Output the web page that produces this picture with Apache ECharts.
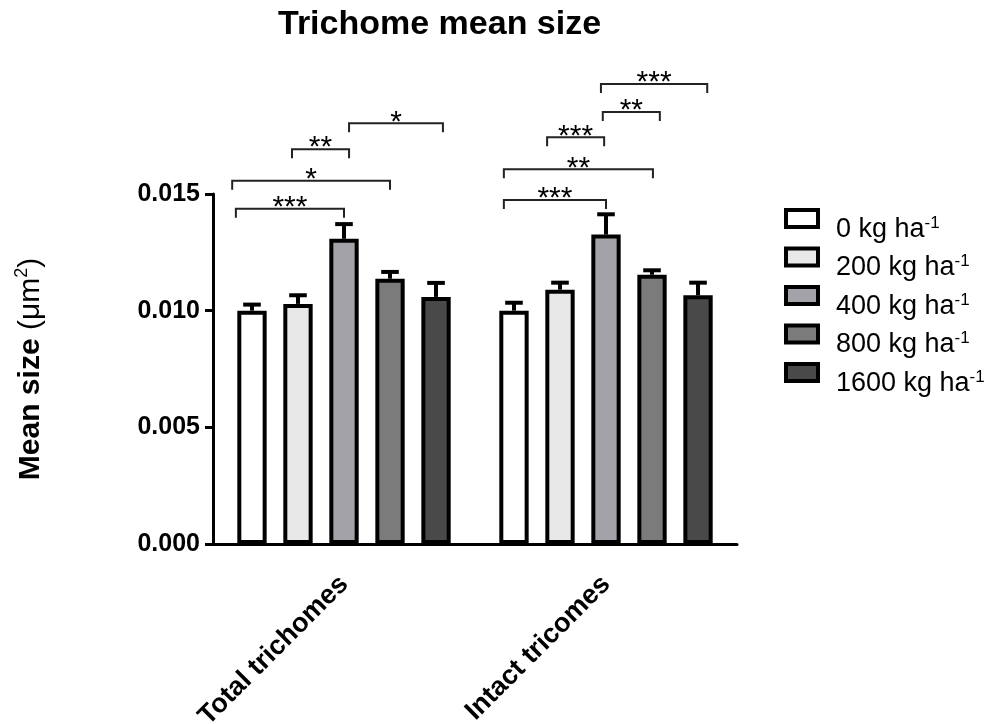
<!DOCTYPE html>
<html><head><meta charset="utf-8">
<script src="https://cdn.jsdelivr.net/npm/echarts@6/dist/echarts.min.js"></script>
<style>html,body{margin:0;padding:0;background:#fff}#c{width:990px;height:724px}</style>
</head><body><div id="c"></div>
<script>
// ---- data ----
const categories = ['Total trichomes', 'Intact tricomes'];
const seriesNames = ['0', '200', '400', '800', '1600'];
const seriesColors = ['#ffffff', '#e8e8e8', '#a2a2a8', '#7b7b7b', '#494949'];
const mean0 = [0.0100, 0.0100];
const mean200 = [0.01029, 0.01090];
const mean400 = [0.01308, 0.01326];
const mean800 = [0.01137, 0.01154];
const mean1600 = [0.01059, 0.01066];
const upper0 = [0.01026, 0.01034];
const upper200 = [0.01066, 0.01120];
const upper400 = [0.01371, 0.01413];
const upper800 = [0.01166, 0.01173];
const upper1600 = [0.01119, 0.01120];
const yMin = 0, yMax = 0.015, yStep = 0.005;
// significance brackets (category, from bar slot, to bar slot, height, label)
const bracketCat = [0, 0, 0, 0, 1, 1, 1, 1, 1];
const bracketFrom = [-0.35, -0.43, 0.87, 2.11, -0.22, -0.22, 0.72, 1.93, 1.89];
const bracketTo = [2.0, 3.0, 2.11, 4.15, 2.0, 3.02, 1.96, 3.17, 4.2];
const bracketY = [0.01437, 0.01557, 0.01692, 0.01803, 0.01474, 0.01606, 0.01743, 0.01851, 0.01971];
const bracketLabel = ['***', '*', '**', '*', '***', '**', '***', '**', '***'];

const means = [mean0, mean200, mean400, mean800, mean1600];
const uppers = [upper0, upper200, upper400, upper800, upper1600];

const FONT = "'Liberation Sans', Arial, Helvetica, sans-serif";
const BAR_W = 0.112, BAR_GAP = 0.568, N = seriesNames.length;

function slotX(api, cat, slot) {
  const band = api.size([1, 0])[0];
  const w = band * BAR_W;
  const step = w * (1 + BAR_GAP);
  const total = N * step - w * BAR_GAP;
  return api.coord([cat, 0])[0] - total / 2 + w / 2 + slot * step;
}

const barSeries = seriesNames.map((name, i) => ({
  name: name,
  type: 'bar',
  data: means[i],
  barWidth: (BAR_W * 100) + '%',
  barGap: (BAR_GAP * 100) + '%',
  itemStyle: { color: seriesColors[i], borderColor: '#000', borderWidth: 4 },
  z: 2
}));

const errData = [];
seriesNames.forEach((n, i) => {
  categories.forEach((c, j) => errData.push([j, i, means[i][j], uppers[i][j]]));
});

const errSeries = {
  type: 'custom',
  data: errData,
  encode: { x: 0, y: 3 },
  z: 1,
  clip: false,
  renderItem: function (params, api) {
    const cat = api.value(0), si = api.value(1);
    const x = slotX(api, cat, si);
    const y0 = api.coord([cat, api.value(2)])[1];
    const y1 = api.coord([cat, api.value(3)])[1];
    const band = api.size([1, 0])[0];
    const cap = band * BAR_W * 0.6;
    return {
      type: 'group',
      children: [
        { type: 'line', shape: { x1: x, y1: y0, x2: x, y2: y1 }, style: { stroke: '#000', lineWidth: 4 } },
        { type: 'line', shape: { x1: x - cap / 2, y1: y1, x2: x + cap / 2, y2: y1 }, style: { stroke: '#000', lineWidth: 4 } }
      ]
    };
  }
};

const bracketData = bracketCat.map((c, k) => [c, bracketFrom[k], bracketTo[k], bracketY[k]]);
const bracketSeries = {
  type: 'custom',
  data: bracketData,
  encode: { x: 0, y: 3 },
  z: 3,
  clip: false,
  renderItem: function (params, api) {
    const cat = api.value(0);
    const xa = slotX(api, cat, api.value(1));
    const xb = slotX(api, cat, api.value(2));
    const y = api.coord([cat, api.value(3)])[1];
    const tick = 9;
    return {
      type: 'group',
      children: [
        { type: 'polyline', shape: { points: [[xa, y + tick], [xa, y], [xb, y], [xb, y + tick]] },
          style: { stroke: '#222', lineWidth: 2, fill: null } },
        { type: 'text', x: (xa + xb) / 2, y: y - 1,
          style: { text: bracketLabel[params.dataIndex], fill: '#000', fontSize: 30, fontFamily: FONT,
                   textAlign: 'center', textVerticalAlign: 'middle' } }
      ]
    };
  }
};

const chart = echarts.init(document.getElementById('c'));
chart.setOption({
  animation: false,
  backgroundColor: '#fff',
  title: {
    text: 'Trichome mean size',
    left: 273, top: 3,
    textStyle: { fontFamily: FONT, fontSize: 34, fontWeight: 'bold', color: '#000' }
  },
  legend: {
    orient: 'vertical',
    left: 779, top: 203,
    icon: 'rect',
    itemWidth: 32, itemHeight: 17, itemGap: 1,
    data: seriesNames,
    itemStyle: { borderColor: '#000', borderWidth: 4 },
    formatter: name => '{t|' + name + ' kg ha}{s|-1}',
    textStyle: {
      padding: [22, 0, 0, 13],
      rich: {
        t: { fontFamily: FONT, fontSize: 27, color: '#000', lineHeight: 30 },
        s: { fontFamily: FONT, fontSize: 17, color: '#000', lineHeight: 30, verticalAlign: 'top', padding: [0, 0, 14, 0] }
      }
    }
  },
  grid: { left: 213, right: 253, top: 194, bottom: 180, outerBoundsMode: 'none', containLabel: false },
  xAxis: {
    type: 'category',
    data: categories,
    axisLine: { lineStyle: { color: '#000', width: 3 } },
    axisTick: { alignWithLabel: true, length: 8, lineStyle: { color: '#000', width: 3 } },
    axisLabel: { rotate: 45, margin: 36, color: '#000', fontFamily: FONT, fontSize: 27, fontWeight: 'bold' }
  },
  yAxis: {
    type: 'value',
    min: yMin, max: yMax, interval: yStep,
    name: '{b|Mean size }{r|(μm}{s|2}{r|)}',
    nameLocation: 'middle',
    nameGap: 164,
    nameTextStyle: {
      rich: {
        b: { fontFamily: FONT, fontSize: 30, fontWeight: 'bold', color: '#000', lineHeight: 36 },
        r: { fontFamily: FONT, fontSize: 30, color: '#000', lineHeight: 36 },
        s: { fontFamily: FONT, fontSize: 18, color: '#000', lineHeight: 36, verticalAlign: 'top' }
      }
    },
    splitLine: { show: false },
    axisLine: { show: true, lineStyle: { color: '#000', width: 3 } },
    axisTick: { show: true, length: 8, lineStyle: { color: '#000', width: 3 } },
    axisLabel: { margin: 13, color: '#000', fontFamily: FONT, fontSize: 25, fontWeight: 'bold',
                 formatter: v => v.toFixed(3) }
  },
  series: barSeries.concat([errSeries, bracketSeries])
});
</script></body></html>
